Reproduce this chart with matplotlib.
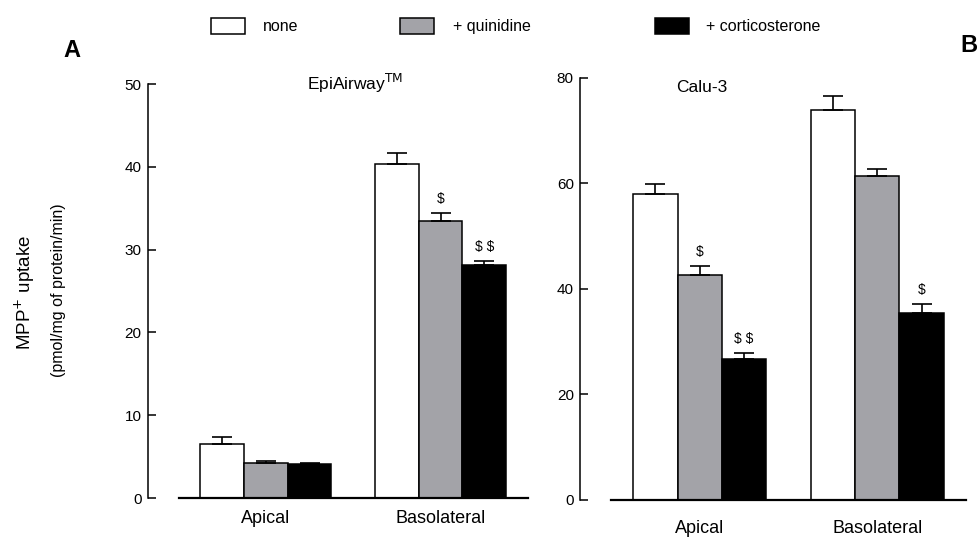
import numpy as np
import matplotlib
matplotlib.use("Agg")
import matplotlib.pyplot as plt
from matplotlib.patches import Rectangle

plt.rcParams["font.family"] = ["Liberation Sans", "DejaVu Sans"]

# ---------------- DATA ----------------
groups = ["Apical", "Basolateral"]
treatments = ["none", "+ quinidine", "+ corticosterone"]
colors = ["white", "#a3a3a8", "black"]

# EpiAirway (panel A), rows = treatment, cols = group
epi_mean = [[6.5, 40.3], [4.2, 33.5], [4.1, 28.1]]
epi_err = [[0.9, 1.4], [0.3, 0.9], [0.1, 0.5]]
epi_marks = [(1, 1, "$"), (2, 1, "$ $")]      # (treatment, group, label)

# Calu-3 (panel B)
calu_mean = [[58.0, 74.0], [42.6, 61.4], [26.6, 35.4]]
calu_err = [[1.9, 2.5], [1.7, 1.3], [1.2, 1.7]]
calu_marks = [(1, 0, "$"), (2, 0, "$ $"), (2, 1, "$")]

W, H = 978, 541


def px(x, y):
    """pixel coords -> figure fraction"""
    return x / W, 1 - y / H


def draw_panel(ax, means, errs, marks, ymax, ystep, title, title_xy, label_pad):
    for i in range(3):
        x = np.array([0, 4]) + i
        ax.bar(x, means[i], width=1.0, color=colors[i], edgecolor="black",
               linewidth=1.1, zorder=2)
        ax.errorbar(x, means[i], yerr=[np.zeros(2), errs[i]], fmt="none",
                    ecolor="black", elinewidth=1.2, capsize=7.5, capthick=1.2,
                    zorder=3)
    for t, g, lab in marks:
        ax.annotate(lab.replace("$", r"\$"), (g * 4 + t, means[t][g] + errs[t][g]),
                    xytext=(0, 5), textcoords="offset points",
                    ha="center", va="bottom", fontsize=10)

    ax.set_xlim(-1.7, 7.0)
    ax.set_ylim(0, ymax)
    ax.set_yticks(np.arange(0, ymax + 1, ystep))
    ax.set_xticks([1, 5])
    ax.set_xticklabels(groups, fontsize=13)
    ax.tick_params(axis="x", length=0, pad=label_pad)
    ax.tick_params(axis="y", direction="in", length=6, width=1.1,
                   labelsize=11, pad=4.5)
    for s in ["top", "right"]:
        ax.spines[s].set_visible(False)
    ax.spines["left"].set_linewidth(1.1)
    ax.spines["bottom"].set_linewidth(1.6)
    ax.spines["bottom"].set_bounds(-1.0, 7.0)

    fig = ax.figure
    fig.text(*px(*title_xy), title, ha="center", va="center", fontsize=12.5)


fig = plt.figure(figsize=(W / 100, H / 100), dpi=100)

axA = fig.add_axes([148 / W, (H - 498) / H, 380 / W, 414 / H])
draw_panel(axA, epi_mean, epi_err, epi_marks, 50, 10,
           r"EpiAirway$^{\mathrm{TM}}$", (355, 83), 8.5)

axB = fig.add_axes([580 / W, (H - 499.5) / H, 386 / W, 421.5 / H])
draw_panel(axB, calu_mean, calu_err, calu_marks, 80, 20,
           "Calu-3", (702, 87), 15)

# y axis label
fig.text(*px(25, 292), r"MPP$^{+}$ uptake", rotation=90, ha="center",
         va="center", fontsize=13.5)
fig.text(*px(59, 290), "(pmol/mg of protein/min)", rotation=90, ha="center",
         va="center", fontsize=11.5)

# panel letters
fig.text(*px(72, 50), "A", ha="center", va="center", fontsize=17,
         fontweight="bold")
fig.text(*px(960, 46), "B", ha="left", va="center", fontsize=17,
         fontweight="bold")

# legend across the top
box_x = [211, 400, 655]
text_x = [263, 453, 706]
for i in range(3):
    bx, by = px(box_x[i], 34)
    fig.patches.append(Rectangle((bx, by), 34 / W, 16 / H, transform=fig.transFigure,
                                 facecolor=colors[i], edgecolor="black",
                                 linewidth=1.1))
    fig.text(*px(text_x[i], 31), treatments[i], ha="left", va="baseline",
             fontsize=11.5)

fig.savefig("out.png", dpi=100)
